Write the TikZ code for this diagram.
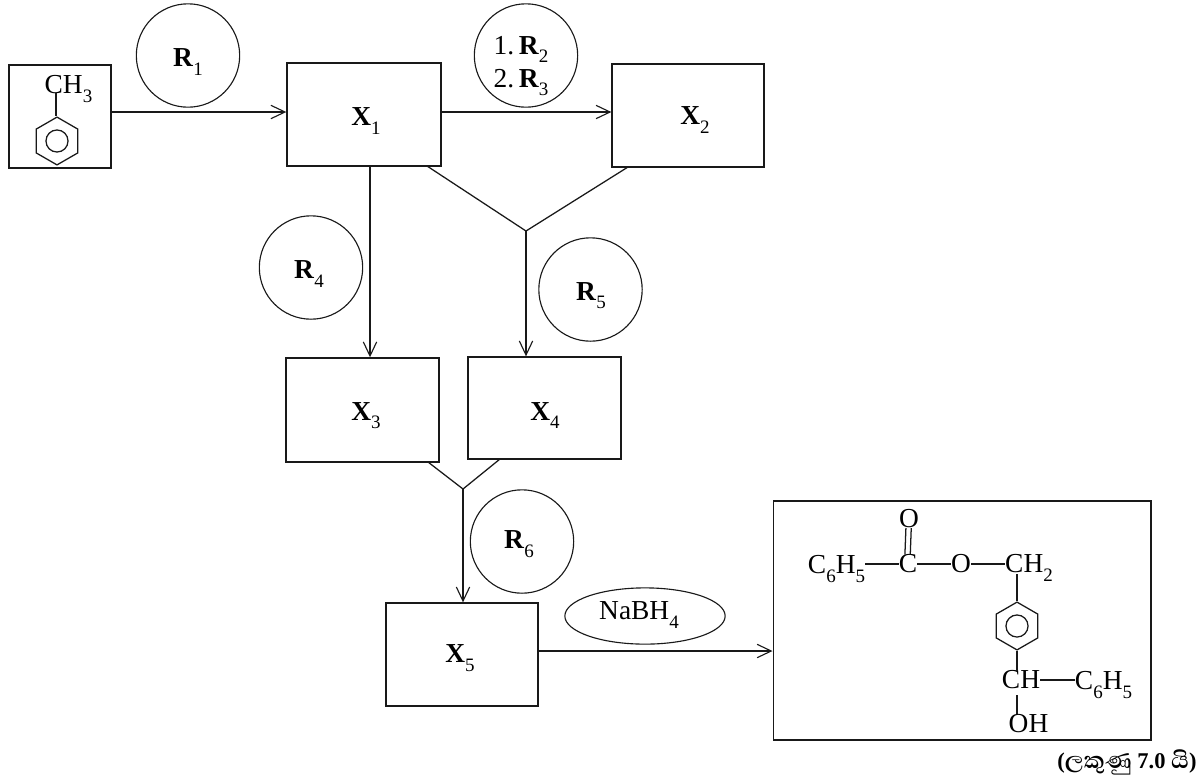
\documentclass[tikz,border=0pt]{standalone}
\usepackage{fontspec}
\setmainfont{Liberation Serif}
\newfontfamily\sinhfont[Script=Sinhala]{Abhaya Libre}
\usetikzlibrary{arrows.meta,shapes.geometric,calc}
\newcommand{\sbs}[1]{\raisebox{-6pt}{\normalfont\fontsize{13.5}{15}\selectfont #1}}
\tikzset{
  x=0.025cm,y=-0.025cm,
  line/.style={draw=black!90,line width=0.9pt},
  arr/.style={line,-{Straight Barb[length=10pt,width=9.5pt,line width=0.8pt]}},
  frame/.style={rectangle,draw=black!90,line width=1pt,fill=white,inner sep=0pt},
  reagent/.style={circle,draw=black!90,line width=0.8pt,inner sep=0pt,minimum size=73.5pt},
  lab/.style={inner sep=0pt,font=\fontsize{19.5}{23.5}\selectfont},
  chem/.style={inner sep=0pt,font=\fontsize{19.5}{22}\selectfont},
  ring/.style={regular polygon,regular polygon sides=6,shape border rotate=30,draw=black!90,line width=0.9pt,inner sep=0pt,minimum size=34pt},
  inring/.style={circle,draw=black!90,line width=0.9pt,inner sep=0pt,minimum size=15.7pt},
}
\begin{document}
\begin{tikzpicture}
\useasboundingbox (0,0) rectangle (1200,778);
% boxes
\node[frame,minimum width=72.5pt,minimum height=73pt] (s) at (60,116.5) {};
\node[frame,minimum width=109.5pt,minimum height=73.2pt] (x1) at (364,114.5) {};
\node[frame,minimum width=108pt,minimum height=73.2pt] (x2) at (688,115.5) {};
\node[frame,minimum width=108.8pt,minimum height=74pt] (x3) at (362.5,410) {};
\node[frame,minimum width=108.8pt,minimum height=72.5pt] (x4) at (544.5,408) {};
\node[frame,minimum width=108pt,minimum height=73.2pt] (x5) at (462,654.5) {};
\node[frame,minimum width=268.5pt,minimum height=170pt] (p) at (962,620.5) {};
% box labels
\node[lab] (lx1) at (366,121) {\textbf{X}\sbs{1}};
\node[lab] (lx2) at (695,120) {\textbf{X}\sbs{2}};
\node[lab] (lx3) at (366,415.5) {\textbf{X}\sbs{3}};
\node[lab] (lx4) at (545,415.5) {\textbf{X}\sbs{4}};
\node[lab] (lx5) at (460,658) {\textbf{X}\sbs{5}};
% reagents
\node[reagent] (r1) at (188,55.5) {};
\node[reagent] (r23) at (526,55.5) {};
\node[reagent] (r4) at (311,267.5) {};
\node[reagent] (r5) at (590.5,289.5) {};
\node[reagent] (r6) at (522,541.5) {};
\node[lab] (lr1) at (188,62) {\textbf{R}\sbs{1}};
\node[lab,align=right] (lr23) at (521,66) {1.\,\textbf{R}\sbs{2}\\2.\,\textbf{R}\sbs{3}};
\node[lab] (lr4) at (309,274) {\textbf{R}\sbs{4}};
\node[lab] (lr5) at (591,295.5) {\textbf{R}\sbs{5}};
\node[lab] (lr6) at (519,544) {\textbf{R}\sbs{6}};
\node[ellipse,draw=black!90,line width=0.8pt,inner sep=0pt,minimum width=114pt,minimum height=40pt] (na) at (645,616) {};
\node[lab] (lna) at (639,615) {NaBH\sbs{4}};
% junctions and box edge points
\coordinate (j1) at (526,231);
\coordinate (j2) at (463,489);
\coordinate (a1) at (427,166);
\coordinate (a2) at (628,167);
\coordinate (a3) at (428,462);
\coordinate (a4) at (500,459);
\coordinate (d1) at (370,166);
\coordinate (l1) at (111,112);
\coordinate (l2) at (441,112);
\coordinate (l3) at (538,651);
% connectors
\draw[arr] (l1) -- (l1 -| x1.west);
\draw[arr] (l2) -- (l2 -| x2.west);
\draw[arr] (d1) -- (d1 |- x3.north);
\draw[line] (a1) -- (j1) -- (a2);
\draw[arr] (j1) -- (j1 |- x4.north);
\draw[line] (a3) -- (j2) -- (a4);
\draw[arr] (j2) -- (j2 |- x5.north);
\draw[arr] (l3) -- (l3 -| p.west);
% toluene
\node[chem] (ch3) at (68.5,89) {CH\sbs{3}};
\node[ring] (b1) at (57,141) {};
\node[inring] (c1) at (b1.center) {};
\coordinate (t1) at (56,93);
\draw[line] (t1) -- (t1 |- b1.north);
% product
\node[chem] (f1) at (836.5,569) {C\sbs{6}H\sbs{5}};
\node[chem] (f2) at (908,564) {C};
\node[chem] (f3) at (961,564) {O};
\node[chem] (f4) at (1029,568) {CH\sbs{2}};
\node[chem] (f5) at (909,518.5) {O};
\node[ring] (b2) at (1017,626) {};
\node[inring] (c2) at (b2.center) {};
\node[chem] (f6) at (1021,680) {CH};
\node[chem] (f7) at (1103.5,685) {C\sbs{6}H\sbs{5}};
\node[chem] (f8) at (1028.5,724) {OH};
\coordinate (k1) at (1017,574);
\coordinate (k2) at (1017,671);
\coordinate (k3) at (1017,695);
\coordinate (k4) at (1017,714);
\draw[line] ([xshift=-2.2pt]f5.south) -- ([xshift=-2.2pt]f2.north);
\draw[line] ([xshift=1.6pt]f5.south) -- ([xshift=1.6pt]f2.north);
\draw[line] (f2.west -| f1.east) -- (f2.west);
\draw[line] (f2.east) -- (f3.west);
\draw[line] (f3.east) -- (f3.east -| f4.west);
\draw[line] (k1) -- (b2.north);
\draw[line] (b2.south) -- (k2);
\draw[line] (f6.east) -- (f6.east -| f7.west);
\draw[line] (k3) -- (k4);
\node[inner sep=0pt,font=\fontsize{16}{18}\selectfont\bfseries] (m) at (1127,762) {({\sinhfont\fontsize{21}{24}\selectfont ලකුණු} 7.0 {\sinhfont\fontsize{21}{24}\selectfont යි})};
\end{tikzpicture}
\end{document}
